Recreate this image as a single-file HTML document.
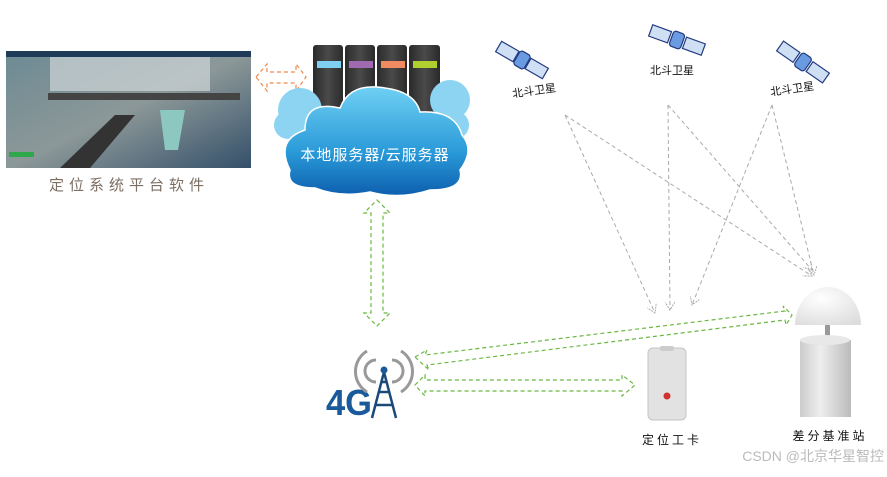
<!DOCTYPE html>
<html><head><meta charset="utf-8"><style>
body{margin:0;background:#fff;width:887px;height:472px;overflow:hidden;font-family:"Liberation Sans","Noto Sans CJK SC",sans-serif}
</style></head><body>
<svg width="887" height="472" viewBox="0 0 887 472" xmlns="http://www.w3.org/2000/svg">
<defs>
<marker id="ga" markerWidth="10" markerHeight="10" refX="8" refY="5" orient="auto-start-reverse" markerUnits="userSpaceOnUse"><path d="M0,0 L8,5 L0,10" fill="none" stroke="#aaa" stroke-width="1" stroke-dasharray="2,1"/></marker>
<linearGradient id="cl" x1="0" y1="0" x2="0" y2="1"><stop offset="0" stop-color="#6fd0f4"/><stop offset="0.6" stop-color="#2a9ad8"/><stop offset="1" stop-color="#0d5fae"/></linearGradient>
<linearGradient id="sv" x1="0" y1="0" x2="1" y2="0"><stop offset="0" stop-color="#2a2a2a"/><stop offset="0.5" stop-color="#4a4a4a"/><stop offset="1" stop-color="#2a2a2a"/></linearGradient>
<linearGradient id="cy" x1="0" y1="0" x2="1" y2="0"><stop offset="0" stop-color="#ccc"/><stop offset="0.4" stop-color="#eee"/><stop offset="1" stop-color="#bbb"/></linearGradient>
<radialGradient id="dm" cx="0.4" cy="0.3" r="0.8"><stop offset="0" stop-color="#fff"/><stop offset="1" stop-color="#ddd"/></radialGradient>
<linearGradient id="sc" x1="0" y1="0" x2="1" y2="1"><stop offset="0" stop-color="#6c8a94"/><stop offset="0.5" stop-color="#8c9898"/><stop offset="1" stop-color="#34506a"/></linearGradient>
</defs>
<rect x="6" y="51" width="245" height="117" fill="url(#sc)"/>
<rect x="50" y="51" width="160" height="40" fill="#cfd6d8" opacity="0.7"/>
<path d="M60,168 L115,115 L135,115 L90,168Z" fill="#333"/>
<path d="M48,93 L240,93 L240,100 L48,100Z" fill="#444"/>
<path d="M160,110 L185,110 L178,150 L165,150Z" fill="#8cc8c0"/>
<rect x="6" y="51" width="245" height="6" fill="#1f3b5a"/>
<rect x="9" y="152" width="25" height="5" fill="#2ea84a"/>
<text x="129" y="190" font-size="15" fill="#7d6e62" text-anchor="middle" letter-spacing="5">定位系统平台软件</text>
<g stroke="#f08a4a" stroke-width="1.2" stroke-dasharray="4,3" fill="none">
<path d="M256,77 L267,64 L267,72 L296,72 L296,64 L306,77 L296,91 L296,83 L267,83 L267,91 Z"/>
</g>
<g>
<rect x="313" y="45" width="30" height="95" rx="3" fill="url(#sv)"/>
<rect x="345" y="45" width="30" height="95" rx="3" fill="url(#sv)"/>
<rect x="377" y="45" width="30" height="95" rx="3" fill="url(#sv)"/>
<rect x="409" y="45" width="31" height="95" rx="3" fill="url(#sv)"/>
<rect x="317" y="61" width="24" height="7" fill="#7fd0f0"/>
<rect x="349" y="61" width="24" height="7" fill="#a06ab0"/>
<rect x="381" y="61" width="24" height="7" fill="#f08a60"/>
<rect x="413" y="61" width="24" height="7" fill="#b0d030"/>
</g>
<g fill="#8cd4f2">
<circle cx="300" cy="110" r="22"/><circle cx="450" cy="100" r="20"/><circle cx="455" cy="125" r="14"/><circle cx="288" cy="125" r="14"/>
</g>
<path d="M290,170 Q275,140 305,130 Q305,100 340,108 Q350,82 385,88 Q415,92 420,112 Q455,110 462,135 Q475,150 460,170 Q465,190 430,190 Q400,200 370,192 Q340,198 315,188 Q285,188 290,170Z" fill="url(#cl)" stroke="#fff" stroke-width="1.5"/>
<text x="375" y="160" font-size="15" fill="#fff" text-anchor="middle" letter-spacing="1">本地服务器/云服务器</text>
<g stroke="#6ab840" stroke-width="1.2" stroke-dasharray="4,3" fill="none">
<path d="M377,200 L390,213 L383,213 L383,313 L390,313 L377,326 L364,313 L371,313 L371,213 L364,213 Z"/>
<path d="M415,357 L427,350 L425,355 L785,311 L783,306 L792,315 L786,325 L785,320 L427,365 L429,370 Z"/>
<path d="M415,385 L425,375 L425,380 L622,380 L622,375 L635,385 L622,396 L622,391 L425,391 L425,396 Z"/>
</g>
<text x="326" y="415" font-size="36" font-weight="bold" fill="#1a5a9a" textLength="46" lengthAdjust="spacingAndGlyphs">4G</text>
<g stroke="#1a4a7a" stroke-width="2.5" fill="none">
<path d="M372,418 L384,372 L396,418 M376,405 L392,405 M379,392 L389,392 M381,382 L387,382"/>
</g>
<circle cx="384" cy="370" r="3.5" fill="#1a5a9a"/>
<g stroke="#999" stroke-width="3" fill="none">
<path d="M376,360 A11,11 0 0 0 376,382"/><path d="M392,360 A11,11 0 0 1 392,382"/>
<path d="M367,351 A24,24 0 0 0 367,392"/><path d="M401,351 A24,24 0 0 1 401,392"/>
</g>
<g fill="#cfe0f5" stroke="#223a80" stroke-width="1.2">
<g transform="rotate(30 522 60)"><rect x="495" y="54" width="20" height="12"/><rect x="529" y="54" width="20" height="12"/><rect x="516" y="52" width="12" height="16" rx="3" fill="#6a9ae0"/></g>
<g transform="rotate(20 677 40)"><rect x="649" y="34" width="20" height="12"/><rect x="685" y="34" width="20" height="12"/><rect x="671" y="32" width="12" height="16" rx="3" fill="#6a9ae0"/></g>
<g transform="rotate(35 803 62)"><rect x="775" y="56" width="20" height="12"/><rect x="811" y="56" width="20" height="12"/><rect x="797" y="54" width="12" height="16" rx="3" fill="#6a9ae0"/></g>
</g>
<g font-size="11" fill="#111">
<text x="512" y="95" transform="rotate(-8 530 90)">北斗卫星</text>
<text x="650" y="74">北斗卫星</text>
<text x="770" y="93" transform="rotate(-8 790 88)">北斗卫星</text>
</g>
<g stroke="#aaa" stroke-width="1" stroke-dasharray="4,3" fill="none" marker-end="url(#ga)">
<line x1="565" y1="115" x2="655" y2="313"/><line x1="565" y1="115" x2="812" y2="276"/>
<line x1="668" y1="105" x2="670" y2="310"/><line x1="668" y1="105" x2="812" y2="270"/>
<line x1="772" y1="105" x2="692" y2="305"/><line x1="772" y1="105" x2="814" y2="275"/>
</g>
<rect x="648" y="348" width="38" height="72" rx="5" fill="#e2e2e2" stroke="#c4c4c4"/>
<rect x="660" y="346" width="14" height="5" rx="2" fill="#ccc"/>
<circle cx="667" cy="396" r="3.5" fill="#d03030"/>
<text x="672" y="444" font-size="12" fill="#111" text-anchor="middle" letter-spacing="3">定位工卡</text>
<path d="M795,325 A33,38 0 0 1 861,325 Z" fill="url(#dm)"/>
<rect x="825" y="325" width="5" height="17" fill="#999"/>
<rect x="800" y="340" width="51" height="77" fill="url(#cy)"/>
<ellipse cx="825" cy="340" rx="25" ry="5" fill="#e8e8e8"/>
<text x="830" y="440" font-size="12" fill="#111" text-anchor="middle" letter-spacing="3">差分基准站</text>
<text x="884" y="461" font-size="14" fill="#bbb" text-anchor="end">CSDN @北京华星智控</text>
</svg>
</body></html>
